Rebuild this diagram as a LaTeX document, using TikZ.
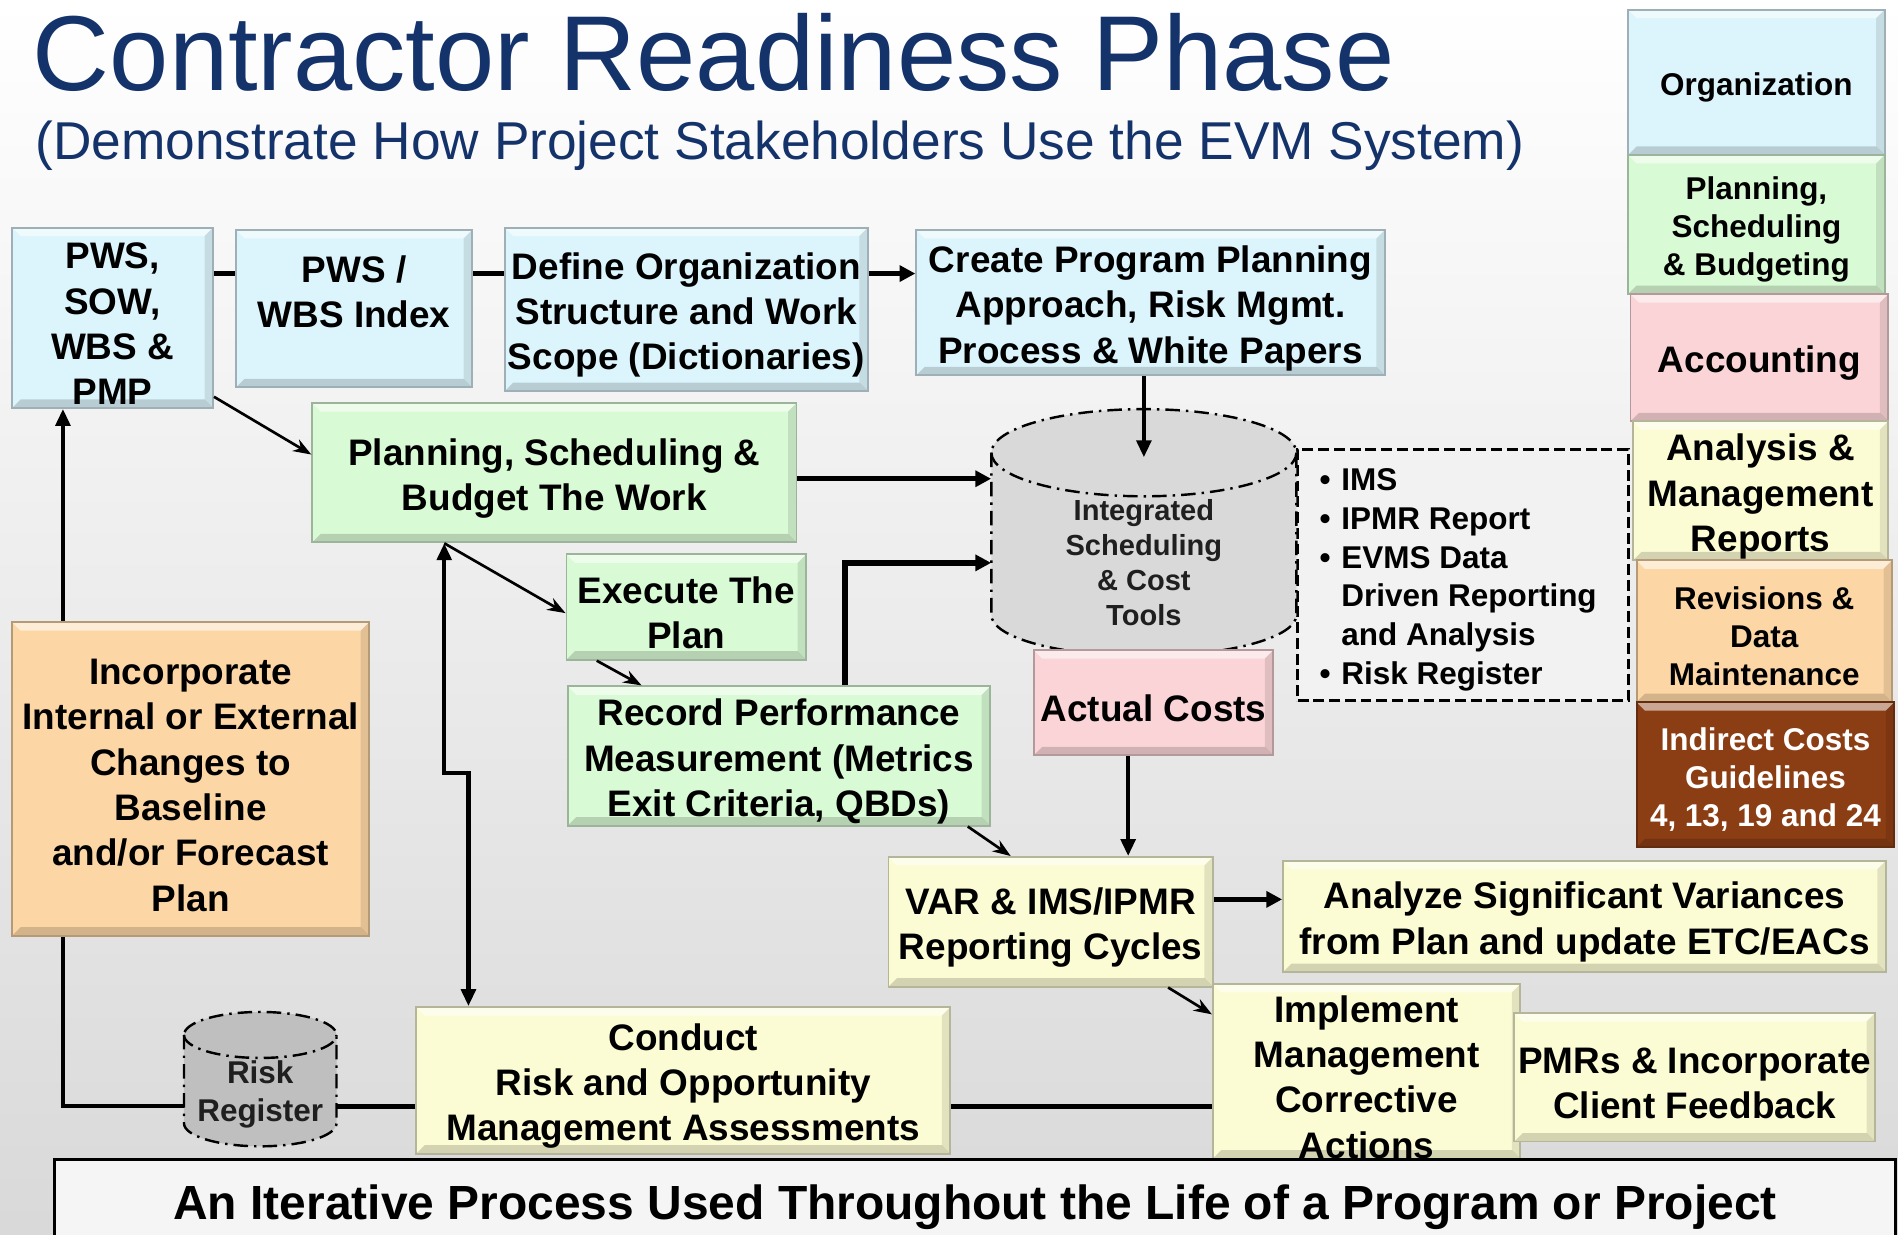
\documentclass[tikz,border=0pt]{standalone}
\usepackage{fontspec}
\setmainfont{Liberation Sans}
\usepackage{tikz}
\usetikzlibrary{arrows.meta}
\usetikzlibrary{calc}

\definecolor{titleblue}{RGB}{21,51,107}
\definecolor{orgblue}{RGB}{220,245,252}
\definecolor{psbgreen}{RGB}{216,250,212}
\definecolor{reportyellow}{RGB}{252,252,212}
\definecolor{costpink}{RGB}{250,212,214}
\definecolor{changepeach}{RGB}{252,214,165}
\definecolor{indirectbrown}{RGB}{139,61,20}

\newcommand{\boxfont}{\fontsize{30.5}{37.5}\selectfont\bfseries}
\newcommand{\sidefont}{\fontsize{26}{31.5}\selectfont\bfseries}
\newcommand{\cylfont}{\fontsize{24}{29}\selectfont\bfseries}
\newcommand{\listfont}{\fontsize{26}{32}\selectfont\bfseries}
\newcommand{\bannerfont}{\fontsize{39.6}{46}\selectfont\bfseries}
\newcommand{\itm}{\llap{\textbullet\hspace{9pt}}}
\newcommand{\tst}{\rule{0pt}{1.03em}}

\begin{document}
\begin{tikzpicture}[x=1pt, y=-1pt,
    bevel/.style={path picture={
        \fill[white, opacity=0.55] (path picture bounding box.north west) -- (path picture bounding box.north east) -- ([xshift=-7pt, yshift=-7pt]path picture bounding box.north east) -- ([xshift=7pt, yshift=-7pt]path picture bounding box.north west) -- cycle;
        \fill[black, opacity=0.16] (path picture bounding box.south west) -- (path picture bounding box.south east) -- ([xshift=-7pt, yshift=7pt]path picture bounding box.south east) -- ([xshift=7pt, yshift=7pt]path picture bounding box.south west) -- cycle;
        \fill[black, opacity=0.10] (path picture bounding box.north east) -- (path picture bounding box.south east) -- ([xshift=-7pt, yshift=7pt]path picture bounding box.south east) -- ([xshift=-7pt, yshift=-7pt]path picture bounding box.north east) -- cycle;}},
    box/.style={draw=#1!72!black, fill=#1, line width=1.6pt, inner sep=0pt, align=center, font=\boxfont, bevel},
    sidebox/.style={box=#1, font=\sidefont},
    cyl/.style={draw, line width=2pt, dash pattern=on 12pt off 5pt on 2pt off 5pt},
    cyltext/.style={inner sep=0pt, align=center, font=\cylfont, text=black!88},
    thickline/.style={line width=4.5pt},
    midline/.style={line width=3.4pt},
    thickarrow/.style={line width=4.5pt, -{Triangle[length=13pt, width=13pt]}},
    midarrow/.style={line width=3.4pt, -{Triangle[length=14pt, width=12pt]}},
    thinarrow/.style={line width=2.2pt, -{Stealth[length=15pt, width=11pt]}}
  ]
\useasboundingbox (0,0) rectangle (1568,1020);
\shade[top color=white, bottom color=black!15] (0,0) rectangle (1568,1020);

\draw (27,75) node[anchor=base west, inner sep=0pt, text=titleblue, font=\fontsize{88}{100}\selectfont] (title) {Contractor Readiness Phase};
\draw (29,132) node[anchor=base west, inner sep=0pt, text=titleblue, font=\fontsize{44}{50}\selectfont] (subtitle) {(Demonstrate How Project Stakeholders Use the EVM System)};

\draw (1451,68) node[sidebox=orgblue, minimum width=212pt, minimum height=120pt] (org) {\tst Organization};
\draw (1451,185.5) node[sidebox=psbgreen, minimum width=212pt, minimum height=115pt] (psb) {\tst Planning,\\Scheduling\\\& Budgeting};
\draw (1453.5,295.5) node[box=costpink, minimum width=213pt, minimum height=105pt] (acc) {\tst Accounting};
\draw (1454.5,405.5) node[box=reportyellow, minimum width=211pt, minimum height=115pt] (amr) {\tst Analysis \&\\Management\\Reports};
\draw (1457.5,521.5) node[sidebox=changepeach, minimum width=211pt, minimum height=117pt] (rdm) {\tst Revisions \&\\Data\\Maintenance};
\draw (1458.5,640) node[sidebox=indirectbrown, text=white, minimum width=213pt, minimum height=120pt] (ind) {\tst Indirect Costs\\Guidelines\\4, 13, 19 and 24};

\draw (1208.5,475) node[draw, line width=2.6pt, dash pattern=on 9pt off 4pt, fill=black!5, minimum width=273pt, minimum height=208pt] (list) {};
\draw (1108,474.5) node[anchor=west, inner sep=0pt, align=left, font=\listfont] (items) {\rule{0pt}{1.04em}\itm IMS\\\itm IPMR Report\\\itm EVMS Data\\Driven Reporting\\and Analysis\\\itm Risk Register};

\filldraw[cyl, fill=black!15] (819,374) -- (819,508) arc[start angle=180, end angle=360, x radius=126pt, y radius=34pt] -- (1071,374) arc[start angle=0, end angle=180, x radius=126pt, y radius=36pt] -- cycle;
\draw[cyl] (819,374) arc[start angle=180, end angle=360, x radius=126pt, y radius=36pt];
\draw (945,465) node[cyltext, minimum width=252pt, minimum height=174pt] (ist) {Integrated\\Scheduling\\\& Cost\\Tools};

\filldraw[cyl, fill=black!25] (152,855) -- (152,928) arc[start angle=180, end angle=360, x radius=63pt, y radius=19pt] -- (278,855) arc[start angle=0, end angle=180, x radius=63pt, y radius=19pt] -- cycle;
\draw[cyl] (152,855) arc[start angle=180, end angle=360, x radius=63pt, y radius=19pt];
\draw (215,901) node[cyltext, font=\sidefont, minimum width=126pt] (risk) {\rule{0pt}{0.95em}Risk\\Register};

\draw (93,262.5) node[box=orgblue, minimum width=166pt, minimum height=149pt] (pws) {\tst PWS,\\SOW,\\WBS \&\\PMP};
\draw (292.5,255) node[box=orgblue, minimum width=195pt, minimum height=130pt] (index) {\tst PWS /\\WBS Index\\\mbox{}};
\draw (567,255.5) node[box=orgblue, minimum width=300pt, minimum height=135pt] (define) {\tst Define Organization\\Structure and Work\\Scope (Dictionaries)};
\draw (950.5,250) node[box=orgblue, minimum width=387pt, minimum height=120pt] (create) {\tst Create Program Planning\\Approach, Risk Mgmt.\\Process \& White Papers};
\draw (458,390.5) node[box=psbgreen, minimum width=400pt, minimum height=115pt] (plan) {\tst Planning, Scheduling \&\\Budget The Work};
\draw (567,501.5) node[box=psbgreen, minimum width=198pt, minimum height=87pt] (execute) {\tst Execute The\\Plan};
\draw (643.5,624.5) node[box=psbgreen, minimum width=349pt, minimum height=115pt] (record) {\tst Record Performance\\Measurement (Metrics\\Exit Criteria, QBDs)};
\draw (953,580.5) node[box=costpink, minimum width=198pt, minimum height=87pt] (actual) {\tst Actual Costs};
\draw (157.5,643.5) node[box=changepeach, minimum width=295pt, minimum height=259pt] (incorporate) {\tst Incorporate\\Internal or External\\Changes to\\Baseline\\and/or Forecast\\Plan};
\draw (868,761.5) node[box=reportyellow, minimum width=268pt, minimum height=107pt] (var) {\tst VAR \& IMS/IPMR\\Reporting Cycles};
\draw (1309,757) node[box=reportyellow, minimum width=498pt, minimum height=92pt] (analyze) {\tst Analyze Significant Variances\\from Plan and update ETC/EACs};
\draw (564.5,892.5) node[box=reportyellow, minimum width=441pt, minimum height=121pt] (conduct) {\tst Conduct\\Risk and Opportunity\\Management Assessments};
\draw (1129,885) node[box=reportyellow, minimum width=254pt, minimum height=140pt] (implement) {\tst Implement\\Management\\Corrective\\Actions};
\draw (1400,890) node[box=reportyellow, minimum width=298pt, minimum height=106pt] (pmr) {\tst PMRs \& Incorporate\\Client Feedback};

\draw (805.5,994) node[draw, line width=2.4pt, fill=black!4, minimum width=1521pt, minimum height=72pt, font=\bannerfont] (banner) {\rule{0pt}{0.88em}An Iterative Process Used Throughout the Life of a Program or Project};

\coordinate (topline) at (0,226);
\coordinate (botline) at (0,914);
\draw[thickline] (pws.east |- topline) -- (index.west |- topline);
\draw[thickline] (index.east |- topline) -- (define.west |- topline);
\draw[thickarrow] (define.east |- topline) -- (create.west |- topline);
\draw[thinarrow] ([yshift=10pt]pws.south east) -- ([yshift=15pt]plan.west);
\draw[thickarrow] ([yshift=-5pt]plan.east) -- ([yshift=-5pt]plan.east -| ist.west);
\draw[midarrow] (ist.north |- create.south) -- (ist.north);
\draw[thinarrow] ([xshift=-91pt]plan.south) -- ([yshift=-5pt]execute.west);
\draw[midline, {Triangle[length=14pt, width=12pt]}-{Triangle[length=14pt, width=12pt]}] ([xshift=-91pt]plan.south) -- ++(0,190) -- ++(20,0) -- ([xshift=-177.5pt]conduct.north);
\draw[thinarrow] ([xshift=-74pt]execute.south) -- ([xshift=-113.5pt]record.north);
\draw[thickarrow] ([xshift=54.5pt]record.north) |- (ist.west);
\draw[thinarrow] ([xshift=156pt]record.south) -- ([xshift=-33pt]var.north);
\draw[midarrow] ([xshift=-21pt]actual.south) -- ([xshift=-21pt]actual.south |- var.north);
\draw[thickarrow] ([yshift=18.5pt]var.east) -- ([yshift=18.5pt]var.east -| analyze.west);
\draw[thinarrow] ([xshift=97pt]var.south) -- ([yshift=47pt]implement.west);
\draw[thickline] (implement.west |- botline) -- (conduct.east |- botline);
\draw[thickline] (conduct.west |- botline) -- (risk.east |- botline);
\draw[midline] (risk.west |- botline) -| ([xshift=-105.5pt]incorporate.south);
\draw[midarrow] ([xshift=-105.5pt]incorporate.north) -- ([xshift=-105.5pt]incorporate.north |- pws.south);
\end{tikzpicture}
\end{document}
